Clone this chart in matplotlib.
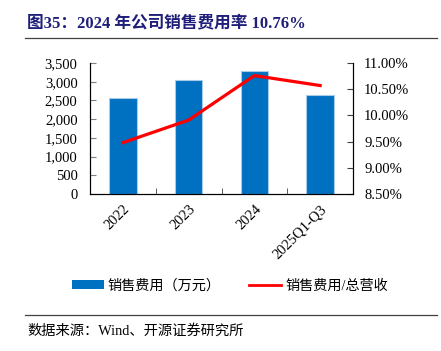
import numpy as np
import matplotlib
matplotlib.use('Agg')
import matplotlib.pyplot as plt
from matplotlib.lines import Line2D
from matplotlib.patches import Patch

plt.rcParams['font.family'] = ['Liberation Serif', 'Noto Sans CJK SC']

# data
years = ['2022', '2023', '2024', '2025Q1-Q3']
sales_exp = [2554, 3045, 3286, 2634]          # 万元
sales_ratio = [9.48, 9.91, 10.76, 10.57]      # %

blue = '#0070C0'
red = '#FF0000'
navy = '#1F1F7A'

fig = plt.figure(figsize=(4.41, 3.51), dpi=100)
ax = fig.add_axes([90/441, 1-194/351, 263/441, 131/351])
x = np.arange(len(years))
ax.bar(x, sales_exp, width=0.42, color=blue, edgecolor='#A9CBEA', linewidth=0.8, zorder=2)
ax.set_xlim(-0.5, 3.5)
ax.set_ylim(0, 3500)
ax.set_yticks(np.arange(0, 3501, 500))
ax.set_yticklabels([f'{v:,}' for v in range(0, 3501, 500)])
ax.set_xticks(x)
ax.set_xticklabels(years, rotation=45, ha='right', rotation_mode='anchor')
ax.set_xticks(x[:-1] + 0.5, minor=True)
ax.tick_params(axis='x', which='major', length=0, pad=6, labelsize=10.5)
ax.tick_params(axis='x', which='minor', direction='in', length=4, color='#404040')
ax.tick_params(axis='y', direction='in', length=4, color='#808080', labelsize=10.5, pad=9)
ax.spines['top'].set_visible(False)
for s in ['left', 'bottom', 'right']:
    ax.spines[s].set_color('black')
    ax.spines[s].set_linewidth(0.8)

ax2 = ax.twinx()
ax2.plot(x, sales_ratio, color=red, linewidth=2.3, zorder=3)
ax2.set_ylim(8.5, 11.0)
ax2.set_yticks(np.arange(8.5, 11.01, 0.5))
ax2.set_yticklabels([f'{v:.2f}%' for v in np.arange(8.5, 11.01, 0.5)])
ax2.tick_params(axis='y', direction='in', length=4, color='#404040', labelsize=10.5, pad=8)
ax2.spines['top'].set_visible(False)
ax2.spines['right'].set_linewidth(0.8)

# title and rules
fig.text(27/441, 1-23/351, '图35：2024 年公司销售费用率 10.76%', fontsize=12,
         fontweight='bold', color=navy, va='center', ha='left')
fig.add_artist(Line2D([25/441, 437/441], [1-38/351, 1-38/351], color='#404040', linewidth=0.9))
fig.add_artist(Line2D([25/441, 437/441], [1-315/351, 1-315/351], color='#404040', linewidth=0.9))
fig.text(27/441, 1-331/351, '数据来源：Wind、开源证券研究所', fontsize=10.3, color='black',
         va='center', ha='left')

handles = [Patch(facecolor=blue, edgecolor='none'),
           Line2D([0], [0], color=red, linewidth=2)]
fig.legend(handles, ['销售费用（万元）', '销售费用/总营收'], loc='center',
           bbox_to_anchor=(230/441, 1-286/351), ncol=2, frameon=False, fontsize=10.2,
           handlelength=2.25, handleheight=0.6, columnspacing=2.0, handletextpad=0.3,
           borderpad=0, borderaxespad=0)

fig.savefig('out.png', dpi=100)
